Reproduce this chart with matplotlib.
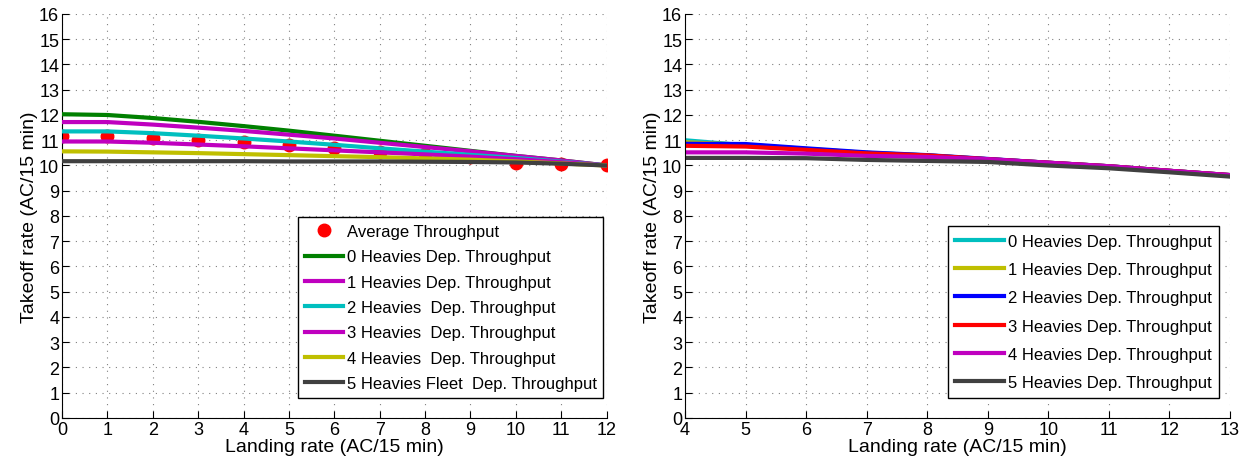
import numpy as np
import matplotlib
matplotlib.use('Agg')
import matplotlib.pyplot as plt

plt.rcParams['font.family'] = ['Liberation Sans', 'DejaVu Sans']

# ==========================
# Datos panel izquierdo
# ==========================
landing_left = [0, 1, 2, 3, 4, 5, 6, 7, 8, 9, 10, 11, 12]
avg_throughput = [11.15, 11.15, 11.1, 11.0, 10.93, 10.83, 10.69, 10.54, 10.45, 10.33, 10.1, 10.07, 10.0]
dep_0 = [12.03, 12.0, 11.88, 11.73, 11.56, 11.38, 11.18, 10.98, 10.78, 10.58, 10.38, 10.2, 10.0]
dep_1 = [11.72, 11.72, 11.62, 11.5, 11.37, 11.22, 11.07, 10.9, 10.73, 10.56, 10.38, 10.2, 10.0]
dep_2 = [11.35, 11.35, 11.28, 11.18, 11.07, 10.95, 10.82, 10.68, 10.55, 10.42, 10.3, 10.15, 10.0]
dep_3 = [10.95, 10.95, 10.9, 10.83, 10.76, 10.68, 10.6, 10.52, 10.44, 10.35, 10.25, 10.13, 10.0]
dep_4 = [10.56, 10.55, 10.52, 10.49, 10.45, 10.41, 10.37, 10.33, 10.28, 10.23, 10.16, 10.08, 10.0]
dep_5 = [10.17, 10.17, 10.17, 10.17, 10.17, 10.16, 10.16, 10.16, 10.15, 10.14, 10.12, 10.07, 10.0]

left_labels = ['0 Heavies Dep. Throughput', '1 Heavies Dep. Throughput',
               '2 Heavies  Dep. Throughput', '3 Heavies  Dep. Throughput',
               '4 Heavies  Dep. Throughput', '5 Heavies Fleet  Dep. Throughput']

# ==========================
# Datos panel derecho
# ==========================
landing_right = [4, 5, 6, 7, 8, 9, 10, 11, 12, 13]
r_dep_0 = [11.0, 10.8, 10.65, 10.5, 10.4, 10.25, 10.11, 9.97, 9.79, 9.62]
r_dep_1 = [10.92, 10.82, 10.66, 10.5, 10.4, 10.25, 10.11, 9.97, 9.79, 9.62]
r_dep_2 = [10.86, 10.85, 10.68, 10.52, 10.41, 10.26, 10.11, 9.97, 9.79, 9.62]
r_dep_3 = [10.78, 10.75, 10.62, 10.48, 10.4, 10.25, 10.11, 9.97, 9.79, 9.62]
r_dep_4 = [10.52, 10.52, 10.47, 10.38, 10.34, 10.25, 10.11, 9.97, 9.79, 9.62]
r_dep_5 = [10.3, 10.3, 10.29, 10.22, 10.18, 10.14, 10.0, 9.89, 9.73, 9.56]

right_labels = ['0 Heavies Dep. Throughput', '1 Heavies Dep. Throughput',
                '2 Heavies Dep. Throughput', '3 Heavies Dep. Throughput',
                '4 Heavies Dep. Throughput', '5 Heavies Dep. Throughput']

green = (0, 0.5, 0)
magenta = (0.75, 0, 0.75)
cyan = (0, 0.75, 0.75)
yellow = (0.75, 0.75, 0)
grey = (0.25, 0.25, 0.25)

left_colors = [green, magenta, cyan, magenta, yellow, grey]
right_colors = [cyan, yellow, 'b', 'r', magenta, grey]


def estilo_ejes(ax, xmin, xmax):
    ax.set_xlim(xmin, xmax)
    ax.set_ylim(0, 16)
    ax.set_xticks(range(xmin, xmax + 1))
    ax.set_yticks(range(0, 17))
    ax.grid(True, linestyle=(0, (1, 5)), color='0.5', linewidth=0.8)
    ax.spines['top'].set_visible(False)
    ax.spines['right'].set_visible(False)
    ax.tick_params(direction='in', labelsize=13, length=5, pad=2)
    ax.set_xlabel('Landing rate (AC/15 min)', fontsize=14, labelpad=0)
    ax.set_ylabel('Takeoff rate (AC/15 min)', fontsize=14, labelpad=1)


fig = plt.figure(figsize=(12.49, 4.64), dpi=100)
ax1 = fig.add_axes([0.0496, 0.097, 0.4361, 0.8707])
ax2 = fig.add_axes([0.5484, 0.097, 0.4364, 0.8707])

# Panel izquierdo
ax1.plot(landing_left, avg_throughput, 'o', color='r', markersize=9,
         label='Average Throughput', zorder=2)
for serie, c, lab in zip([dep_0, dep_1, dep_2, dep_3, dep_4, dep_5], left_colors, left_labels):
    ax1.plot(landing_left, serie, color=c, linewidth=3, label=lab, zorder=3)
estilo_ejes(ax1, 0, 12)
leg1 = ax1.legend(loc='lower right', bbox_to_anchor=(0.994, 0.05), fontsize=12,
                  fancybox=False, edgecolor='k', framealpha=1, handlelength=2.3,
                  handletextpad=0.2, labelspacing=0.62, borderaxespad=0,
                  borderpad=0.4)
leg1.get_frame().set_linewidth(1.0)

# Panel derecho
for serie, c, lab in zip([r_dep_0, r_dep_1, r_dep_2, r_dep_3, r_dep_4, r_dep_5], right_colors, right_labels):
    ax2.plot(landing_right, serie, color=c, linewidth=3, label=lab)
estilo_ejes(ax2, 4, 13)
leg2 = ax2.legend(loc='lower right', bbox_to_anchor=(0.98, 0.05), fontsize=12,
                  fancybox=False, edgecolor='k', framealpha=1, handlelength=2.9,
                  handletextpad=0.25, labelspacing=0.8, borderaxespad=0,
                  borderpad=0.45)
leg2.get_frame().set_linewidth(1.0)

plt.savefig('out.png', dpi=100)
